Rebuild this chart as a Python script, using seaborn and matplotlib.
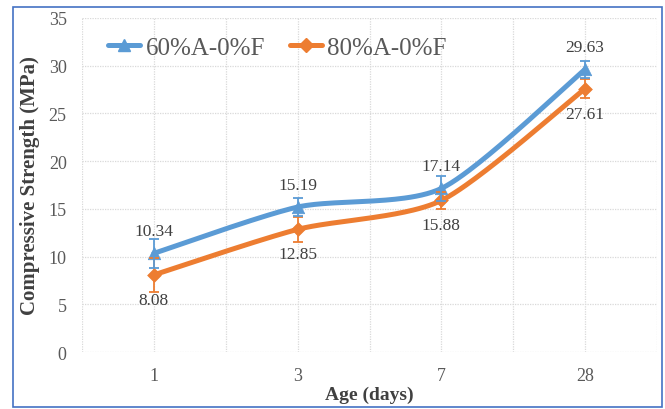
import numpy as np
import pandas as pd
import matplotlib
matplotlib.use("Agg")
import matplotlib.pyplot as plt
import seaborn as sns
from matplotlib.lines import Line2D
from matplotlib.patches import Rectangle

# Curing ages and measured compressive strength (MPa)
ages = ["1", "3", "7", "28"]
series_names = ["60%A-0%F", "80%A-0%F"]
strength_60 = [10.34, 15.19, 17.14, 29.63]
strength_80 = [8.08, 12.85, 15.88, 27.61]
err_60 = [1.55, 0.95, 1.35, 0.9]
err_80 = [1.75, 1.3, 0.9, 1.0]
y_ticks = [0, 5, 10, 15, 20, 25, 30, 35]

BLUE = "#5B9BD5"
ORANGE = "#ED7D31"
TEXT = "#595959"
DARK = "#404040"


def smooth_curve(ys, n=50, tension=1 / 8):
    """Bezier smoothing through the points with neighbour-based tangents."""
    pts = np.column_stack([np.arange(len(ys)), ys]).astype(float)
    ext = np.vstack([pts[0], pts, pts[-1]])
    xs_out, ys_out = [], []
    for i in range(len(pts) - 1):
        p0, p1, p2, p3 = ext[i], ext[i + 1], ext[i + 2], ext[i + 3]
        c1 = p1 + (p2 - p0) * tension
        c2 = p2 - (p3 - p1) * tension
        t = np.linspace(0, 1, n, endpoint=(i == len(pts) - 2))[:, None]
        b = ((1 - t) ** 3) * p1 + 3 * ((1 - t) ** 2) * t * c1 + 3 * (1 - t) * t ** 2 * c2 + t ** 3 * p2
        xs_out.extend(b[:, 0])
        ys_out.extend(b[:, 1])
    return xs_out, ys_out


sns.set_theme(style="white")
plt.rcParams["font.family"] = ["Liberation Serif", "DejaVu Serif"]

fig = plt.figure(figsize=(6.65, 4.1), dpi=100)
ax = fig.add_axes([0.1233, 0.139, 0.8647, 0.8147])

series = [
    (series_names[1], strength_80, err_80, ORANGE, "D", 7, -18),
    (series_names[0], strength_60, err_60, BLUE, "^", 9, 16),
]

x_idx = np.arange(len(ages))
for name, vals, errs, color, marker, msize, off in series:
    sx, sy = smooth_curve(vals)
    curve = pd.DataFrame({"x": sx, "y": sy})
    sns.lineplot(data=curve, x="x", y="y", sort=False, estimator=None,
                 color=color, linewidth=3.6, ax=ax, legend=False, zorder=3)
    pts = pd.DataFrame({"x": x_idx, "y": vals})
    sns.scatterplot(data=pts, x="x", y="y", color=color, marker=marker,
                    s=msize ** 2, edgecolor=color, linewidth=0.5, ax=ax,
                    legend=False, zorder=4)
    ax.errorbar(x_idx, vals, yerr=errs, fmt="none", ecolor=color,
                elinewidth=1.3, capsize=3.5, capthick=1.3, zorder=5)
    for xi, v in zip(x_idx, vals):
        ax.annotate(f"{v:.2f}", (xi, v), xytext=(0, off), textcoords="offset points",
                    ha="center", va="center", fontsize=12.5, color=DARK, zorder=6)

ax.set_xlim(-0.5, len(ages) - 0.5)
ax.set_ylim(0, 35)
ax.set_xticks(x_idx)
ax.set_xticklabels(ages)
ax.set_xticks(np.arange(-0.5, len(ages), 1.0), minor=True)
ax.set_yticks(y_ticks)
ax.set_yticklabels([str(v) for v in y_ticks])

grid_kw = dict(color="#D9D9D9", linestyle=(0, (1, 1)), linewidth=0.9)
ax.grid(True, which="major", axis="both", **grid_kw)
ax.grid(True, which="minor", axis="x", **grid_kw)
ax.set_axisbelow(True)
for s in ax.spines.values():
    s.set_visible(False)

ax.tick_params(axis="both", which="both", length=0, labelsize=13, labelcolor=TEXT)
ax.tick_params(axis="x", pad=11)
ax.tick_params(axis="y", pad=11)

ax.set_xlabel("Age (days)", fontsize=14, fontweight="bold", color=DARK, labelpad=1)
ax.set_ylabel("Compressive Strength (MPa)", fontsize=15, fontweight="bold", color=DARK, labelpad=6)

handles = [
    Line2D([0], [0], color=BLUE, lw=3.6, marker="^", markersize=9),
    Line2D([0], [0], color=ORANGE, lw=3.6, marker="D", markersize=7),
]
ax.legend(handles, series_names, loc="upper left", bbox_to_anchor=(0.006, 1.012),
          ncol=2, frameon=False, fontsize=18, handlelength=1.3, handletextpad=0.2,
          columnspacing=1.0, labelcolor=TEXT)

# thin outline around the whole figure
fig.patches.append(Rectangle((13 / 665, 2 / 410), 649 / 665, 400 / 410,
                             transform=fig.transFigure, fill=False,
                             edgecolor="#4472C4", linewidth=1.2))

fig.savefig("out.png", dpi=100)
